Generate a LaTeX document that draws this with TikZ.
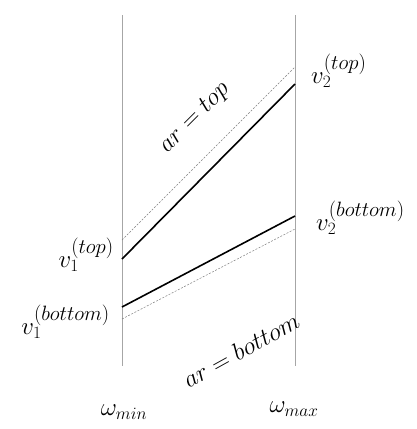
\documentclass[tikz,border=0pt]{standalone}
\newcommand{\bigsup}[1]{^{\mbox{\fontsize{20.5}{24}\selectfont$#1$}}}
\begin{document}
\begin{tikzpicture}[x=1pt,y=-1pt,
  axis/.style={draw=gray!70,line width=0.8pt},
  solidln/.style={draw=black,line width=1.6pt},
  dashln/.style={draw=gray,line width=0.5pt,dash pattern=on 2pt off 1.5pt},
  lbl/.style={inner sep=0pt,font=\fontsize{27}{32}\selectfont}]
\useasboundingbox (0,0) rectangle (417,429);
\fill[white] (0,0) rectangle (417,429);
% axes
\coordinate (Lt) at (122,15); \coordinate (Lb) at (122,366);
\coordinate (Rt) at (295,15); \coordinate (Rb) at (295,366);
\draw[axis] (Lt) -- (Lb);
\draw[axis] (Rt) -- (Rb);
% lines
\coordinate (t1) at (122,259); \coordinate (t2) at (295,84);
\coordinate (b1) at (122,307); \coordinate (b2) at (295,216);
\coordinate (dt1) at (122,240); \coordinate (dt2) at (295,67);
\coordinate (db1) at (122,319); \coordinate (db2) at (295,229);
\draw[solidln] (t1) -- (t2);
\draw[solidln] (b1) -- (b2);
\draw[dashln] (dt1) -- (dt2);
\draw[dashln] (db1) -- (db2);
% labels
\node[lbl,anchor=east] (v1t) at (114,255) {$v_1\bigsup{(top)}$};
\node[lbl,anchor=east] (v1b) at (110,322) {$v_1\bigsup{(bottom)}$};
\node[lbl,anchor=west] (v2t) at (311,71) {$v_2\bigsup{(top)}$};
\node[lbl,anchor=west] (v2b) at (316,218) {$v_2\bigsup{(bottom)}$};
\node[lbl,rotate=45] (art) at (195,118) {$ar = top$};
\node[lbl,rotate=29] (arb) at (241,350) {$ar = bottom$};
\node[lbl] (wmin) at (124,412) {$\omega_{min}$};
\node[lbl] (wmax) at (294,409) {$\omega_{max}$};
\end{tikzpicture}
\end{document}
